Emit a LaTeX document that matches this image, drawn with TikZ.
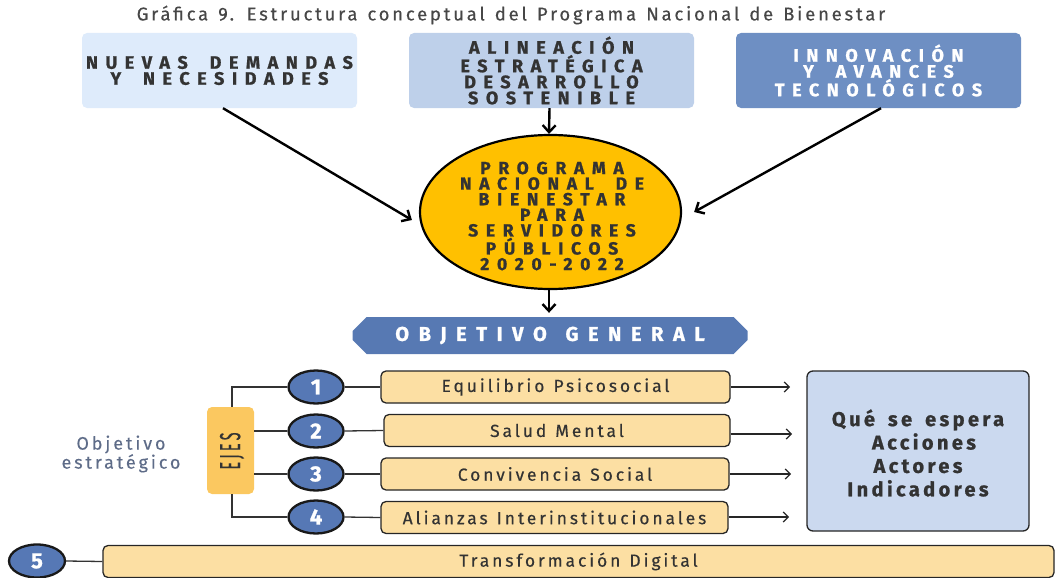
\documentclass[tikz,border=0pt]{standalone}
\usepackage{fontspec}
\setmainfont{Fira Sans}[UprightFeatures={FakeBold=0.3},BoldFeatures={FakeBold=1.0}]
\usetikzlibrary{arrows.meta,shapes.geometric,shapes.misc,calc}
\newcommand\lsp[2]{\addfontfeature{LetterSpace=#1}\spaceskip=#2\fontdimen2\font\relax}
\definecolor{bxA}{HTML}{DEEBFB}
\definecolor{bxB}{HTML}{BED0EA}
\definecolor{bxC}{HTML}{6E8FC3}
\definecolor{ellc}{HTML}{FFC000}
\definecolor{ogc}{HTML}{5779B3}
\definecolor{circc}{HTML}{5678B5}
\definecolor{orc}{HTML}{FCDFA3}
\definecolor{ejc}{HTML}{FBC860}
\definecolor{qc}{HTML}{CBD9EF}
\definecolor{txt}{HTML}{333333}
\definecolor{ttl}{HTML}{474747}
\definecolor{oec}{HTML}{5E6C88}
\begin{document}
\begin{tikzpicture}[x=1pt,y=-1pt,
  topbox/.style={rounded corners=5pt, inner sep=0pt, align=center, text=txt,
    font=\bfseries\fontsize{18}{16}\selectfont\lsp{42}{1.85}},
  bigarr/.style={-{Straight Barb[length=7pt,width=13pt]}, line width=2.4pt},
  smallarr/.style={-{Straight Barb[length=5pt,width=10pt]}, line width=1.2pt, draw=black!85},
  numc/.style={ellipse, fill=circc, draw=black!90, line width=2.3pt, inner sep=0pt,
    minimum width=55pt, minimum height=33pt, text=white, font=\bfseries\fontsize{22}{22}\selectfont},
  obox/.style={rectangle, rounded corners=5pt, fill=orc, draw=black!85, line width=1.3pt,
    inner sep=0pt, minimum height=32pt, text=txt, font=\fontsize{17.5}{16}\selectfont\lsp{16.5}{1.2}},
  tline/.style={line width=1.3pt, draw=black!80}
]
\useasboundingbox (0,0) rectangle (1055,578);

% title
\node[text=ttl, font=\fontsize{18.5}{18}\selectfont\lsp{15}{1.3}] (title) at (511,15)
  {Gráfica 9. Estructura conceptual del Programa Nacional de Bienestar};

% top boxes
\node[topbox, fill=bxA, minimum width=275pt, minimum height=75pt] (n1) at (219.5,70.5)
  {NUEVAS DEMANDAS\\Y NECESIDADES};
\node[topbox, fill=bxB, minimum width=285pt, minimum height=75pt] (n2) at (551.5,70.5)
  {ALINEACIÓN\\ESTRATÉGICA\\DESARROLLO\\SOSTENIBLE};
\node[topbox, fill=bxC, minimum width=285pt, minimum height=75pt, text=white] (n3) at (878.5,70.5)
  {INNOVACIÓN\\Y AVANCES\\TECNOLÓGICOS};

% ellipse
\node[ellipse, fill=ellc, draw=black, line width=2.2pt, inner sep=0pt,
  minimum width=261pt, minimum height=154pt] (ell) at (550.5,212) {};
\node[align=center, text=txt, inner sep=0pt, font=\bfseries\fontsize{17.5}{15.6}\selectfont\lsp{44}{1.85}] (elltxt) at (552,216)
  {PROGRAMA\\NACIONAL DE\\BIENESTAR\\PARA\\SERVIDORES\\PÚBLICOS\\2020-2022};

% arrows into ellipse
\draw[bigarr] ($(n1.south)+(3.5,0)$) -- ($(ell.west)+(-7,8)$);
\draw[bigarr] ($(n2.south)+(-2,0)$) -- ($(ell.north)+(-1.5,0)$);
\draw[bigarr] ($(n3.south)+(2.5,0)$) -- ($(ell.east)+(12,0)$);

% objetivo general
\node[chamfered rectangle, chamfered rectangle xsep=7pt, chamfered rectangle ysep=7pt,
  fill=ogc, inner sep=0pt, minimum width=395pt, minimum height=37pt, text=white,
  font=\bfseries\fontsize{20}{20}\selectfont\lsp{48}{1.3}] (og) at (550,335.5) {OBJETIVO GENERAL};
\draw[bigarr] ($(ell.south)+(-1.5,0)$) -- ($(og.north)+(-1,-4)$);

% EJES
\node[rectangle, rounded corners=5pt, fill=ejc, minimum width=47pt, minimum height=87pt, inner sep=0pt] (ejes) at (230.5,450.5) {};
\node[rotate=90, text=txt, inner sep=0pt, font=\fontsize{29}{29}\selectfont\lsp{22}{1}] (ejestxt) at (232,451)
  {\scalebox{0.5}[1]{EJES}};

% objetivo estrategico
\node[align=center, text=oec, font=\fontsize{18}{19}\selectfont\lsp{16}{1.2}] (oe) at (121,454)
  {Objetivo\\estratégico};

% circles
\node[numc] (c1) at (316,387) {1};
\node[numc] (c2) at (316,431) {2};
\node[numc] (c3) at (316,474) {3};
\node[numc] (c4) at (316,517) {4};
\node[numc, minimum width=56pt] (c5) at (37,561) {5};

% orange boxes
\node[obox, minimum width=349pt] (b1) at (555.5,387) {Equilibrio Psicosocial};
\node[obox, minimum width=346pt] (b2) at (557,430.5) {Salud Mental};
\node[obox, minimum width=348pt] (b3) at (555,474) {Convivencia Social};
\node[obox, minimum width=347pt] (b4) at (554.5,517.5) {Alianzas Interinstitucionales};
\node[obox, minimum width=951pt, minimum height=32pt] (b5) at (578.5,561.5) {Transformación Digital};

% tree connectors
\coordinate (t1) at (232,387);
\coordinate (t4) at (232,517);
\draw[tline] (c1.west) -- (t1) -- (t1 |- ejes.north);
\draw[tline] (c4.west) -- (t4) -- (t4 |- ejes.south);
\draw[tline] (ejes.east |- c2.west) -- (c2.west);
\draw[tline] (ejes.east |- c3.west) -- (c3.west);
\foreach \i in {1,2,3,4,5}{\draw[tline] (c\i.east) -- (b\i.west);}

% Que se espera box
\node[rectangle, rounded corners=6pt, fill=qc, draw=black!85, line width=1.3pt,
  minimum width=222pt, minimum height=160pt, inner sep=0pt] (q) at (918,451) {};
\node[align=center, text=txt, inner sep=0pt, font=\bfseries\fontsize{20}{23.4}\selectfont\lsp{17}{1.6}] (qtxt) at (918,453)
  {Qué se espera\\\hspace*{12pt}Acciones\\Actores\\Indicadores};

% arrows to Q
\coordinate (e1) at (790,387);
\coordinate (e2) at (792,434);
\coordinate (e3) at (791,474);
\coordinate (e4) at (789,517);
\draw[smallarr] (b1.east) -- (e1);
\draw[smallarr] ($(b2.east)+(0,3.5)$) -- (e2);
\draw[smallarr] (b3.east) -- (e3);
\draw[smallarr] (b4.east |- e4) -- (e4);
\end{tikzpicture}
\end{document}
